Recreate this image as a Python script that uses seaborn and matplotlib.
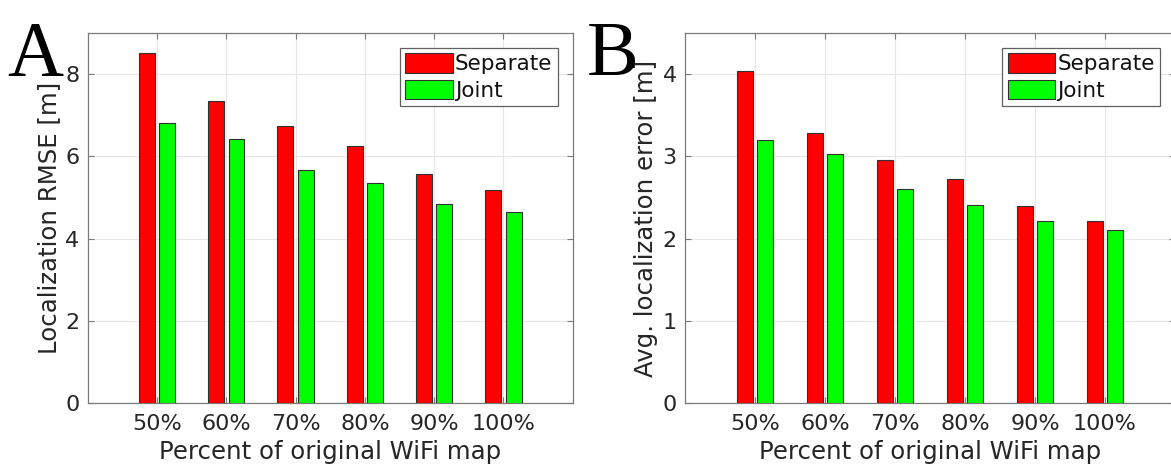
import matplotlib
matplotlib.use("Agg")
import matplotlib.pyplot as plt
import seaborn as sns
import pandas as pd

categories = ["50%", "60%", "70%", "80%", "90%", "100%"]
series_names = ["Separate", "Joint"]
rmse_separate = [8.52, 7.34, 6.73, 6.24, 5.58, 5.18]
rmse_joint = [6.81, 6.41, 5.66, 5.34, 4.83, 4.64]
err_separate = [4.04, 3.28, 2.95, 2.72, 2.40, 2.21]
err_joint = [3.20, 3.03, 2.60, 2.41, 2.21, 2.11]
left_yticks = [0, 2, 4, 6, 8]
right_yticks = [0, 1, 2, 3, 4]

sns.set_theme(style="white")
plt.rcParams["font.family"] = ["DejaVu Sans"]

TXT = "#262626"
SPINE = "#7a7a7a"
GRID = "#e6e6e6"
palette = {"Separate": "#ff0000", "Joint": "#00ff00"}


def make_df(sep, joint):
    rows = []
    for c, a, b in zip(categories, sep, joint):
        rows.append({"cat": c, "series": "Separate", "val": a})
        rows.append({"cat": c, "series": "Joint", "val": b})
    return pd.DataFrame(rows)


fig = plt.figure(figsize=(11.71, 4.66), dpi=100)
axA = fig.add_axes([0.0749, 0.1352, 0.4142, 0.794])
axB = fig.add_axes([0.585, 0.1352, 0.4184, 0.794])


def draw(ax, sep, joint, ylim, yticks, ylabel):
    df = make_df(sep, joint)
    sns.barplot(data=df, x="cat", y="val", hue="series", order=categories,
                hue_order=series_names, palette=palette, width=0.59, gap=0.22,
                edgecolor="#303030", linewidth=0.8, saturation=1, ax=ax,
                zorder=3)
    ax.set_xlim(-1, 6)
    ax.set_ylim(*ylim)
    ax.set_yticks(yticks)
    ax.set_xticks(range(len(categories)))
    ax.set_xticklabels(categories)
    ax.set_axisbelow(True)
    ax.grid(True, color=GRID, linewidth=0.8, zorder=0)
    ax.tick_params(direction="in", length=4, width=0.8, color=SPINE,
                   labelsize=16, labelcolor=TXT, top=True, right=True,
                   bottom=True, left=True)
    ax.tick_params(axis="x", pad=8)
    ax.tick_params(axis="y", pad=6)
    for s in ax.spines.values():
        s.set_visible(True)
        s.set_color(SPINE)
        s.set_linewidth(0.9)
    ax.set_xlabel("Percent of original WiFi map", fontsize=17.6, color=TXT,
                  labelpad=4)
    ax.set_ylabel(ylabel, fontsize=17.6, color=TXT, labelpad=3)
    handles, labels = ax.get_legend_handles_labels()
    leg = ax.legend(handles, labels, loc="upper right", fontsize=15.5,
                    frameon=True, fancybox=False, shadow=False, framealpha=1,
                    edgecolor="#606060", handlelength=2.2, handleheight=1.0,
                    handletextpad=0.1, labelspacing=0.25, borderpad=0.25,
                    borderaxespad=0.7)
    leg.get_frame().set_linewidth(0.9)
    for t in leg.get_texts():
        t.set_color("#111111")


draw(axA, rmse_separate, rmse_joint, (0, 9), left_yticks,
     "Localization RMSE [m]")
draw(axB, err_separate, err_joint, (0, 4.5), right_yticks,
     "Avg. localization error [m]")

fig.text(0.006, 0.838, "A", fontsize=56, family="Liberation Serif", color="black")
fig.text(0.501, 0.838, "B", fontsize=56, family="Liberation Serif", color="black")

fig.savefig("out.png", dpi=100)
